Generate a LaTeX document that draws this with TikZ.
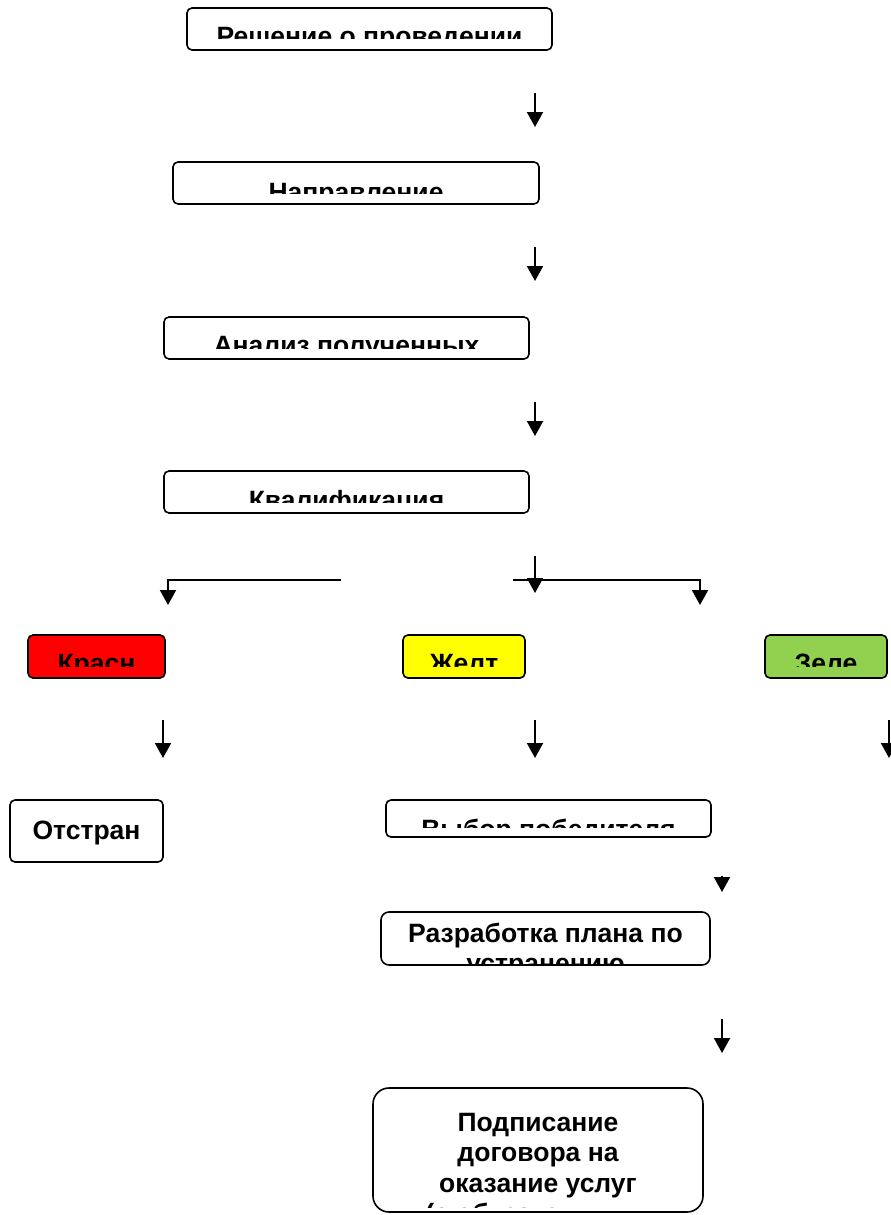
\documentclass[tikz,border=0pt]{standalone}
\usepackage{fontspec}
\setmainfont{Liberation Sans}
\usetikzlibrary{arrows.meta}
\definecolor{boxred}{HTML}{FF0000}
\definecolor{boxyellow}{HTML}{FFFF00}
\definecolor{boxgreen}{HTML}{92D050}
\newcommand{\lines}[1]{\vtop{\baselineskip=30.5pt\halign{\hfil##\hfil\cr#1\cr}}}
\begin{document}
\begin{tikzpicture}[x=1pt,y=-1pt,
  stepbox/.style={draw=black, line width=1.6pt, rounded corners=5pt, inner sep=0pt, outer sep=0pt, anchor=north west},
  lbl/.style={font=\fontsize{26.5}{30}\selectfont\bfseries, inner sep=0pt, anchor=base},
  arr/.style={line width=2pt, -{Triangle[width=16pt,length=15pt]}},
  conn/.style={line width=2pt}]
\useasboundingbox (0,0) rectangle (891,1215);
% boxes
\node[stepbox, minimum width=365pt, minimum height=42pt] (b1) at (187,8) {};
\node[stepbox, minimum width=366pt, minimum height=42pt] (b2) at (173,162) {};
\node[stepbox, minimum width=365pt, minimum height=42pt] (b3) at (164,317) {};
\node[stepbox, minimum width=365pt, minimum height=42pt] (b4) at (164,471) {};
\node[stepbox, fill=boxred, minimum width=137pt, minimum height=43pt] (red) at (28,635) {};
\node[stepbox, fill=boxyellow, minimum width=122pt, minimum height=43pt] (yel) at (403,635) {};
\node[stepbox, fill=boxgreen, minimum width=122pt, minimum height=43pt] (grn) at (765,635) {};
\node[stepbox, minimum width=153pt, minimum height=62pt] (otstr) at (10,800) {};
\node[stepbox, minimum width=325pt, minimum height=37pt] (vybor) at (386,800) {};
\node[stepbox, rounded corners=8pt, minimum width=329pt, minimum height=53pt] (razr) at (381,912) {};
\node[stepbox, rounded corners=16pt, minimum width=330pt, minimum height=124pt] (podp) at (373,1088) {};
% texts (clipped like the original text frames)
\begin{scope}\clip (187,8) rectangle (552,39);
\node[lbl] (t1) at (369.5,46) {Решение о проведении};\end{scope}
\begin{scope}\clip (173,162) rectangle (539,193);
\node[lbl] (t2) at (356,201) {Направление};\end{scope}
\begin{scope}\clip (164,317) rectangle (529,348);
\node[lbl] (t3) at (346.5,354) {Анализ полученных};\end{scope}
\begin{scope}\clip (164,471) rectangle (529,502);
\node[lbl] (t4) at (346.5,509) {Квалификация};\end{scope}
\begin{scope}\clip (28,635) rectangle (165,666);
\node[lbl] (tred) at (96.5,672) {Красн};\end{scope}
\begin{scope}\clip (403,635) rectangle (525,666);
\node[lbl] (tyel) at (464,672) {Желт};\end{scope}
\begin{scope}\clip (765,635) rectangle (887,666);
\node[lbl] (tgrn) at (826,672) {Зеле};\end{scope}
\node[lbl] (totstr) at (86.5,839) {Отстран};
\begin{scope}\clip (386,800) rectangle (711,827);
\node[lbl] (tvybor) at (548.5,838) {Выбор победителя};\end{scope}
\begin{scope}\clip (381,912) rectangle (710,963);
\node[lbl] (trazr) at (545.5,942) {\lines{Разработка плана по\cr устранению}};\end{scope}
\begin{scope}\clip (373,1088) rectangle (703,1207);
\node[lbl] (tpodp) at (538,1131) {\lines{Подписание\cr договора на\cr оказание услуг\cr (с обязательным}};\end{scope}
% free-standing arrows
\coordinate (a1s) at (535,93);  \coordinate (a1e) at (535,127);
\coordinate (a2s) at (535,247); \coordinate (a2e) at (535,281);
\coordinate (a3s) at (535,402); \coordinate (a3e) at (535,436);
\coordinate (a4s) at (535,556); \coordinate (a4e) at (535,593);
\draw[arr] (a1s) -- (a1e);
\draw[arr] (a2s) -- (a2e);
\draw[arr] (a3s) -- (a3e);
% branch
\coordinate (brL) at (341,580); \coordinate (brLe) at (168,605);
\coordinate (brR) at (513,580); \coordinate (brRe) at (700,605);
\draw[arr] (brL) -| (brLe);
\draw[arr] (brR) -| (brRe);
\draw[arr] (a4s) -- (a4e);
% arrows below coloured boxes
\coordinate (r1s) at (163,720); \coordinate (r1e) at (163,758);
\coordinate (y1s) at (535,720); \coordinate (y1e) at (535,758);
\coordinate (g1s) at (889,720); \coordinate (g1e) at (889,758);
\draw[arr] (r1s) -- (r1e);
\draw[arr] (y1s) -- (y1e);
\draw[arr] (g1s) -- (g1e);
% lower chain
\coordinate (v1s) at (722,876); \coordinate (v1e) at (722,892);
\coordinate (v2s) at (722,1019); \coordinate (v2e) at (722,1053);
\draw[arr] (v1s) -- (v1e);
\draw[arr] (v2s) -- (v2e);
\end{tikzpicture}
\end{document}
